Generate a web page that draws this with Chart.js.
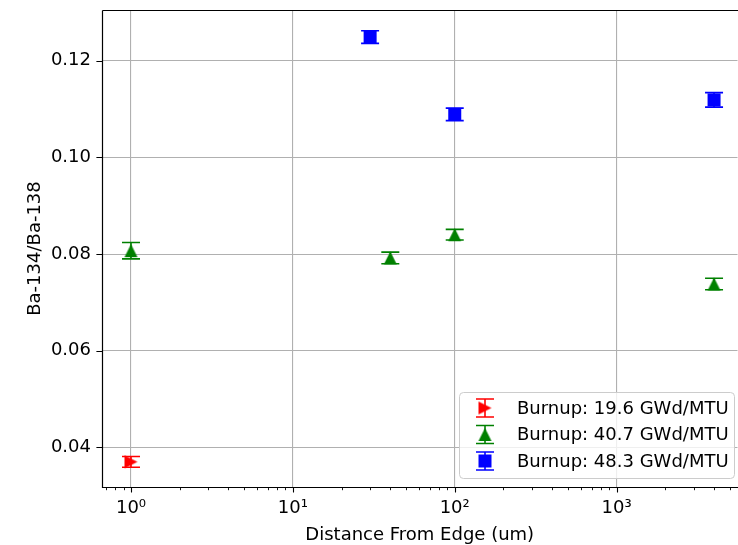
<!DOCTYPE html>
<html>
<head>
<meta charset="utf-8">
<script src="https://cdn.jsdelivr.net/npm/chart.js@4.4.0/dist/chart.umd.min.js"></script>
<style>
  html, body { margin: 0; padding: 0; background: #fff; }
  #wrap { width: 738px; height: 545px; }
</style>
</head>
<body>
<div id="wrap"><canvas id="chart" width="738" height="545"></canvas></div>
<script>
// data
const seriesLabels = ["Burnup: 19.6 GWd/MTU", "Burnup: 40.7 GWd/MTU", "Burnup: 48.3 GWd/MTU"];
const seriesColors = ["#ff0000", "#008000", "#0000ff"];

const redX = [1];
const redY = [0.0370];
const redErr = [0.0011];

const greenX = [1, 40, 100, 4000];
const greenY = [0.0807, 0.0792, 0.0840, 0.0738];
const greenErr = [0.0017, 0.0012, 0.0011, 0.0012];

const blueX = [30, 100, 4000];
const blueY = [0.1249, 0.1089, 0.1119];
const blueErr = [0.0013, 0.0013, 0.0015];

const yTicks = [0.04, 0.06, 0.08, 0.10, 0.12];
const xMajor = [1, 10, 100, 1000];
const xMajorLabels = ["10\u2070", "10\u00b9", "10\u00b2", "10\u00b3"];
const xMinor = [0.7, 0.8, 0.9, 2, 3, 4, 5, 6, 7, 8, 9, 20, 30, 40, 50, 60, 70, 80, 90,
  200, 300, 400, 500, 600, 700, 800, 900, 2000, 3000, 4000, 5000];

const FONT = "DejaVu Sans";
const FSIZE = 18;

function makeMarker(shape, color, s) {
  const c = document.createElement("canvas");
  c.width = s + 2;
  c.height = s + 2;
  const g = c.getContext("2d");
  g.fillStyle = color;
  g.beginPath();
  if (shape === "up") {
    g.moveTo(1 + s / 2, 1);
    g.lineTo(1 + s, 1 + s);
    g.lineTo(1, 1 + s);
  } else if (shape === "right") {
    g.moveTo(1, 1);
    g.lineTo(1 + s, 1 + s / 2);
    g.lineTo(1, 1 + s);
  } else {
    g.rect(1, 1, s, s);
  }
  g.closePath();
  g.fill();
  return c;
}

const markers = [
  makeMarker("right", seriesColors[0], 13),
  makeMarker("up", seriesColors[1], 13),
  makeMarker("square", seriesColors[2], 13)
];

function pts(xs, ys) {
  return xs.map((x, i) => ({ x: x, y: ys[i] }));
}

const errs = [redErr, greenErr, blueErr];

function drawErrorBar(ctx, x, yTop, yBot, color) {
  ctx.strokeStyle = color;
  ctx.lineWidth = 1.6;
  ctx.beginPath();
  ctx.moveTo(x, yTop);
  ctx.lineTo(x, yBot);
  ctx.moveTo(x - 9, yTop);
  ctx.lineTo(x + 9, yTop);
  ctx.moveTo(x - 9, yBot);
  ctx.lineTo(x + 9, yBot);
  ctx.stroke();
}

const errorBars = {
  id: "errorBars",
  afterDatasetsDraw(chart) {
    const ctx = chart.ctx;
    const xs = chart.scales.x, ys = chart.scales.y;
    ctx.save();
    chart.data.datasets.forEach((ds, di) => {
      ds.data.forEach((p, i) => {
        const e = errs[di][i];
        drawErrorBar(ctx, xs.getPixelForValue(p.x), ys.getPixelForValue(p.y + e),
          ys.getPixelForValue(p.y - e), seriesColors[di]);
      });
    });
    ctx.restore();
  }
};

const frame = {
  id: "frame",
  afterDraw(chart) {
    const ctx = chart.ctx;
    const a = chart.chartArea;
    const xs = chart.scales.x, ys = chart.scales.y;
    ctx.save();
    ctx.strokeStyle = "#000";
    // tick marks
    ctx.lineWidth = 1.1;
    ctx.beginPath();
    yTicks.forEach(v => {
      const y = Math.round(ys.getPixelForValue(v)) + 0.5;
      ctx.moveTo(a.left - 5.6, y);
      ctx.lineTo(a.left, y);
    });
    xMajor.forEach(v => {
      const x = Math.round(xs.getPixelForValue(v)) + 0.5;
      ctx.moveTo(x, a.bottom);
      ctx.lineTo(x, a.bottom + 5.6);
    });
    ctx.stroke();
    ctx.lineWidth = 0.9;
    ctx.beginPath();
    xMinor.forEach(v => {
      const x = Math.round(xs.getPixelForValue(v)) + 0.5;
      if (x < a.left || x > a.right) return;
      ctx.moveTo(x, a.bottom);
      ctx.lineTo(x, a.bottom + 3.2);
    });
    ctx.stroke();
    // spines (right one falls off the picture)
    ctx.lineWidth = 1.2;
    ctx.beginPath();
    ctx.moveTo(a.left + 0.5, a.top + 0.5);
    ctx.lineTo(a.left + 0.5, a.bottom + 0.5);
    ctx.lineTo(a.right + 2, a.bottom + 0.5);
    ctx.moveTo(a.left + 0.5, a.top + 0.5);
    ctx.lineTo(a.right + 2, a.top + 0.5);
    ctx.stroke();

    // legend box, lower right
    const bx = 459.5, by = 392.5, bw = 275, bh = 86, r = 4;
    ctx.fillStyle = "rgba(255,255,255,0.8)";
    ctx.strokeStyle = "#cccccc";
    ctx.lineWidth = 1;
    ctx.beginPath();
    ctx.roundRect(bx, by, bw, bh, r);
    ctx.fill();
    ctx.stroke();
    ctx.font = FSIZE + "px '" + FONT + "'";
    ctx.textBaseline = "middle";
    ctx.textAlign = "left";
    seriesLabels.forEach((lab, i) => {
      const cy = 408 + i * 26.5;
      const mk = markers[i];
      ctx.drawImage(mk, 485 - mk.width / 2, cy - mk.height / 2);
      drawErrorBar(ctx, 485, cy - 9, cy + 9, seriesColors[i]);
      ctx.fillStyle = "#000";
      ctx.fillText(lab, 517, cy + 1);
    });
    ctx.restore();
  }
};

function noPad(scale) {
  scale.paddingTop = 0;
  scale.paddingBottom = 0;
  scale.paddingLeft = 0;
  scale.paddingRight = 0;
}

const pointOpts = { pointRadius: 0.5, hoverRadius: 0, pointHoverRadius: 0, pointBorderWidth: 0 };

new Chart(document.getElementById("chart"), {
  type: "scatter",
  data: {
    datasets: [
      Object.assign({ label: seriesLabels[0], data: pts(redX, redY), pointStyle: markers[0] }, pointOpts),
      Object.assign({ label: seriesLabels[1], data: pts(greenX, greenY), pointStyle: markers[1] }, pointOpts),
      Object.assign({ label: seriesLabels[2], data: pts(blueX, blueY), pointStyle: markers[2] }, pointOpts)
    ]
  },
  options: {
    responsive: false,
    devicePixelRatio: 1,
    animation: false,
    events: [],
    layout: { padding: { top: 10, right: 0, left: 0, bottom: 0 } },
    plugins: {
      legend: { display: false },
      tooltip: { enabled: false }
    },
    scales: {
      x: {
        type: "logarithmic",
        min: 0.662,
        max: 5585,
        afterBuildTicks: (scale) => {
          scale.ticks = xMajor.map(v => ({ value: v, major: true }));
        },
        afterFit: (scale) => { scale.height = 58; noPad(scale); },
        ticks: {
          autoSkip: false,
          maxRotation: 0,
          padding: 11,
          color: "#000",
          font: { family: FONT, size: FSIZE },
          callback: (v) => {
            const i = xMajor.indexOf(v);
            return i >= 0 ? xMajorLabels[i] : "";
          }
        },
        grid: { color: "#b0b0b0", lineWidth: 1.1, drawTicks: false },
        border: { display: false },
        title: {
          display: true,
          text: "Distance From Edge (um)",
          color: "#000",
          font: { family: FONT, size: FSIZE },
          padding: { top: 0, bottom: -1 }
        }
      },
      y: {
        type: "linear",
        min: 0.0318,
        max: 0.1305,
        afterBuildTicks: (scale) => {
          scale.ticks = yTicks.map(v => ({ value: v }));
        },
        afterFit: (scale) => { scale.width = 102; noPad(scale); },
        ticks: {
          padding: 11,
          color: "#000",
          font: { family: FONT, size: FSIZE },
          callback: (v) => v.toFixed(2)
        },
        grid: { color: "#b0b0b0", lineWidth: 1.1, drawTicks: false },
        border: { display: false },
        title: {
          display: true,
          text: "Ba-134/Ba-138",
          color: "#000",
          font: { family: FONT, size: FSIZE },
          padding: { top: 25, bottom: 0 }
        }
      }
    }
  },
  plugins: [errorBars, frame]
});
</script>
</body>
</html>
